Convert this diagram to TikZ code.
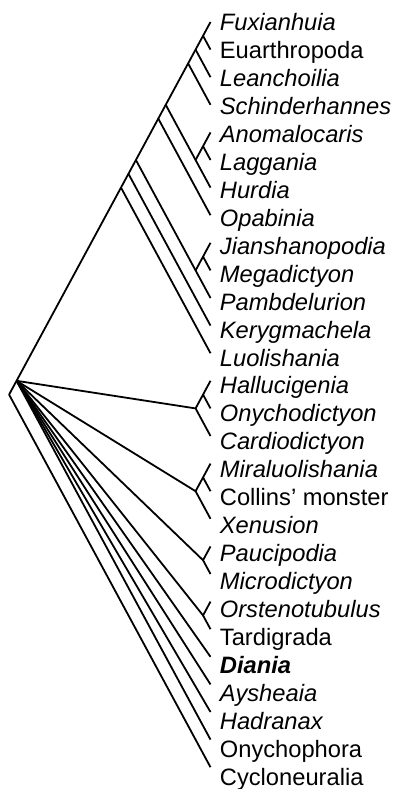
\documentclass[tikz,border=0pt]{standalone}
\usepackage{fontspec}
\setmainfont{Liberation Sans}
\begin{document}
\begin{tikzpicture}[x=0.5pt,y=-0.5pt,
  br/.style={line width=0.9pt,line join=round},
  lbl/.style={anchor=base west,inner sep=0pt,font=\fontsize{11.85pt}{14pt}\selectfont}]
\useasboundingbox (0,0) rectangle (397,789);
% leaf tips
\foreach \i in {0,...,27}{\coordinate (t\i) at (210.5,{22+27.6*\i});}
% internal nodes
\coordinate (n01)   at (203.04,35.8);
\coordinate (n02)   at (195.58,49.6);
\coordinate (n03)   at (188.12,63.4);
\coordinate (n45)   at (203.04,146.2);
\coordinate (n46)   at (195.58,160);
\coordinate (n06)   at (165.74,104.8);
\coordinate (n07)   at (158.28,118.6);
\coordinate (n89)   at (203.04,256.6);
\coordinate (n810)  at (195.58,270.4);
\coordinate (n010)  at (135.91,160);
\coordinate (n011)  at (128.45,173.8);
\coordinate (n012)  at (120.99,187.6);
\coordinate (n1314) at (203.04,394.6);
\coordinate (n1315) at (195.58,408.4);
\coordinate (n1617) at (203.04,477.4);
\coordinate (n1618) at (195.58,491.2);
\coordinate (n1920) at (203.04,560.2);
\coordinate (n2122) at (203.04,615.4);
\coordinate (P)     at (16.55,380.8);
\coordinate (root)  at (9.09,394.6);
% labels
\node[lbl] (L0)  at (219.5,{30.5+27.96*0})  {\textit{Fuxianhuia}};
\node[lbl] (L1)  at (219.5,{30.5+27.96*1})  {Euarthropoda};
\node[lbl] (L2)  at (219.5,{30.5+27.96*2})  {\textit{Leanchoilia}};
\node[lbl] (L3)  at (219.5,{30.5+27.96*3})  {\textit{Schinderhannes}};
\node[lbl] (L4)  at (219.5,{30.5+27.96*4})  {\textit{Anomalocaris}};
\node[lbl] (L5)  at (219.5,{30.5+27.96*5})  {\textit{Laggania}};
\node[lbl] (L6)  at (219.5,{30.5+27.96*6})  {\textit{Hurdia}};
\node[lbl] (L7)  at (219.5,{30.5+27.96*7})  {\textit{Opabinia}};
\node[lbl] (L8)  at (219.5,{30.5+27.96*8})  {\textit{Jianshanopodia}};
\node[lbl] (L9)  at (219.5,{30.5+27.96*9})  {\textit{Megadictyon}};
\node[lbl] (L10) at (219.5,{30.5+27.96*10}) {\textit{Pambdelurion}};
\node[lbl] (L11) at (219.5,{30.5+27.96*11}) {\textit{Kerygmachela}};
\node[lbl] (L12) at (219.5,{30.5+27.96*12}) {\textit{Luolishania}};
\node[lbl] (L13) at (219.5,{30.5+27.96*13}) {\textit{Hallucigenia}};
\node[lbl] (L14) at (219.5,{30.5+27.96*14}) {\textit{Onychodictyon}};
\node[lbl] (L15) at (219.5,{30.5+27.96*15}) {\textit{Cardiodictyon}};
\node[lbl] (L16) at (219.5,{30.5+27.96*16}) {\textit{Miraluolishania}};
\node[lbl] (L17) at (219.5,{30.5+27.96*17}) {Collins’ monster};
\node[lbl] (L18) at (219.5,{30.5+27.96*18}) {\textit{Xenusion}};
\node[lbl] (L19) at (219.5,{30.5+27.96*19}) {\textit{Paucipodia}};
\node[lbl] (L20) at (219.5,{30.5+27.96*20}) {\textit{Microdictyon}};
\node[lbl] (L21) at (219.5,{30.5+27.96*21}) {\textit{Orstenotubulus}};
\node[lbl] (L22) at (219.5,{30.5+27.96*22}) {Tardigrada};
\node[lbl] (L23) at (219.5,{30.5+27.96*23}) {\textbf{\textit{Diania}}};
\node[lbl] (L24) at (219.5,{30.5+27.96*24}) {\textit{Aysheaia}};
\node[lbl] (L25) at (219.5,{30.5+27.96*25}) {\textit{Hadranax}};
\node[lbl] (L26) at (219.5,{30.5+27.96*26}) {Onychophora};
\node[lbl] (L27) at (219.5,{30.5+27.96*27}) {Cycloneuralia};
% branches
\draw[br] (t27) -- (root) -- (P) -- (n012) -- (n011) -- (n010) -- (n07) -- (n06) -- (n03) -- (n02) -- (n01) -- (t0);
\draw[br] (n01) -- (t1);
\draw[br] (n02) -- (t2);
\draw[br] (n03) -- (t3);
\draw[br] (n06) -- (n46) -- (t6);
\draw[br] (n46) -- (n45) -- (t4);
\draw[br] (n45) -- (t5);
\draw[br] (n07) -- (t7);
\draw[br] (n010) -- (n810) -- (t10);
\draw[br] (n810) -- (n89) -- (t8);
\draw[br] (n89) -- (t9);
\draw[br] (n011) -- (t11);
\draw[br] (n012) -- (t12);
\draw[br] (P) -- (n1315) -- (t15);
\draw[br] (n1315) -- (n1314) -- (t13);
\draw[br] (n1314) -- (t14);
\draw[br] (P) -- (n1618) -- (t18);
\draw[br] (n1618) -- (n1617) -- (t16);
\draw[br] (n1617) -- (t17);
\draw[br] (P) -- (n1920) -- (t19);
\draw[br] (n1920) -- (t20);
\draw[br] (P) -- (n2122) -- (t21);
\draw[br] (n2122) -- (t22);
\draw[br] (P) -- (t23);
\draw[br] (P) -- (t24);
\draw[br] (P) -- (t25);
\draw[br] (P) -- (t26);
\end{tikzpicture}
\end{document}
